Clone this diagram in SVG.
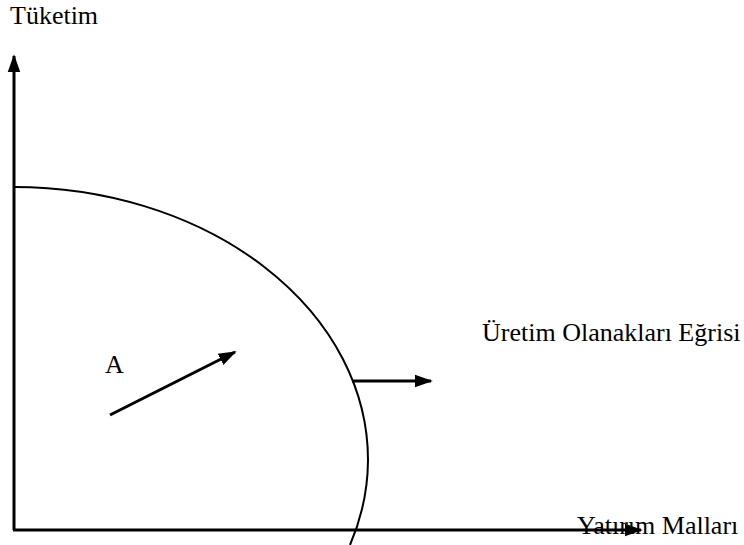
<svg xmlns="http://www.w3.org/2000/svg" width="744" height="545" viewBox="0 0 744 545">
<style>
.t{font-family:"Liberation Serif","Times New Roman",serif;font-size:26px;fill:#000}
.l{stroke:#000;stroke-width:3;fill:none}
</style>
<defs>
<marker id="ah2" viewBox="0 0 10 10" refX="9" refY="5" markerWidth="18" markerHeight="18" orient="auto" markerUnits="userSpaceOnUse">
<path d="M0,1.5 L10,5 L0,8.5 Z" fill="#000"/>
</marker>
</defs>
<rect width="744" height="545" fill="#fff"/>
<g id="label-tuketim"><text class="t" x="10" y="24">Tüketim</text></g>
<g id="label-a"><text class="t" x="105" y="373">A</text></g>
<g id="label-curve"><text class="t" x="482" y="341">Üretim Olanakları Eğrisi</text></g>
<g id="label-yatirim"><text class="t" x="577" y="534">Yatırım Malları</text></g>
<g id="curve">
<path d="M14,187 A354,273 0 0 1 368,460 A354,273 0 0 1 350,545" fill="none" stroke="#000" stroke-width="2"/>
</g>
<g id="connectors">
<path id="y-axis" class="l" d="M14,530 L14,56" marker-end="url(#ah2)"/>
<path id="x-axis" class="l" d="M13,530 L641,530" marker-end="url(#ah2)"/>
<path id="arrow-a" class="l" d="M110,415 L235,352" marker-end="url(#ah2)"/>
<path id="arrow-shift" class="l" d="M352,381 L431,381" marker-end="url(#ah2)"/>
</g>
</svg>
